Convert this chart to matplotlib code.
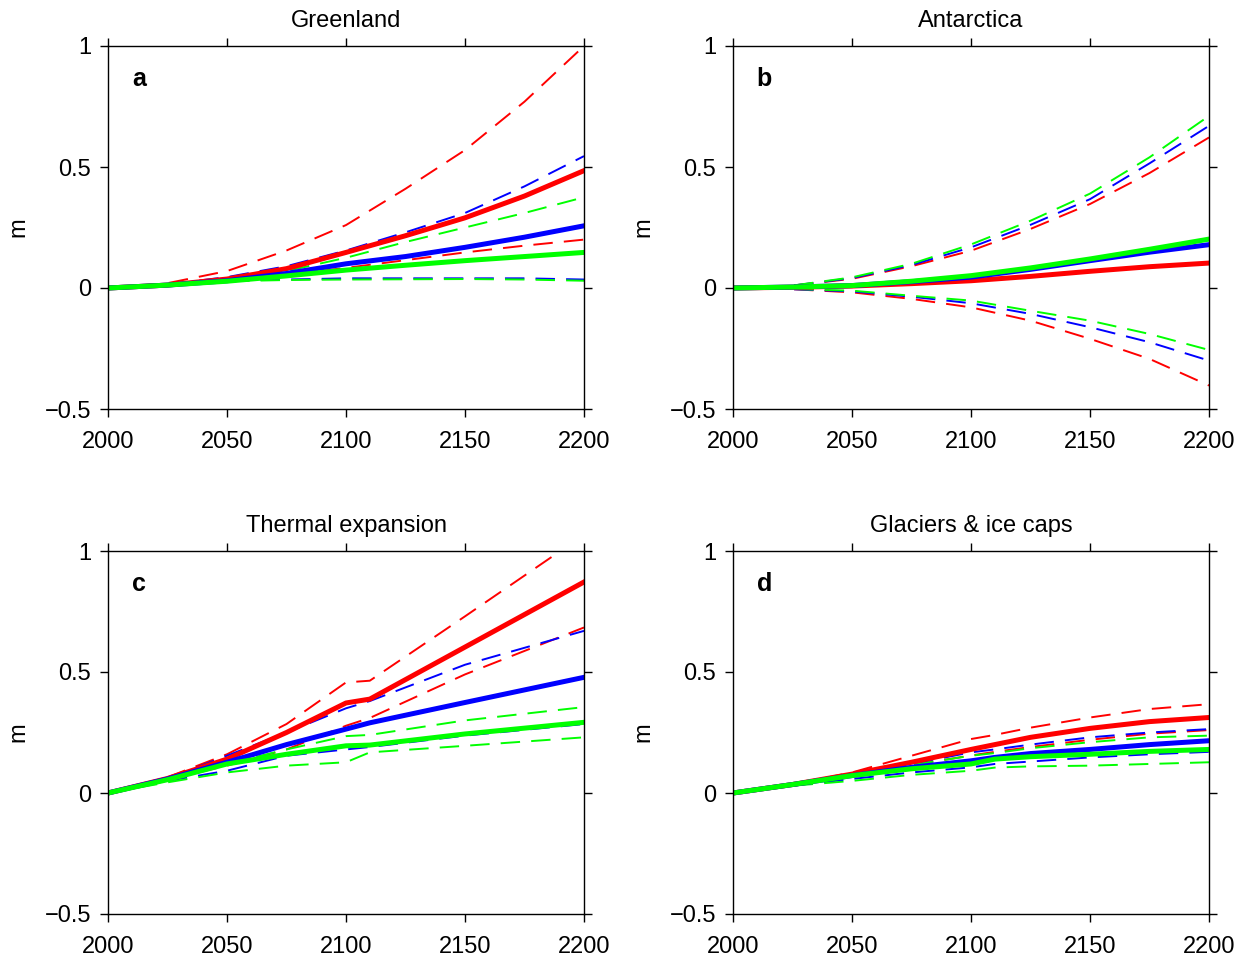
import matplotlib
matplotlib.use('Agg')
import matplotlib.pyplot as plt

plt.rcParams['font.family'] = ['Liberation Sans', 'DejaVu Sans']
plt.rcParams['axes.unicode_minus'] = True
plt.rcParams['lines.scale_dashes'] = False

# Greenland
gr_years = [2000, 2025, 2050, 2075, 2100, 2125, 2150, 2175, 2200]
gr_red_hi = [0, 0.02, 0.07, 0.155, 0.26, 0.41, 0.57, 0.77, 1.0]
gr_red = [0, 0.012, 0.037, 0.08, 0.147, 0.216, 0.29, 0.38, 0.485]
gr_red_lo = [0, 0.012, 0.028, 0.055, 0.083, 0.115, 0.147, 0.175, 0.20]
gr_blue_hi = [0, 0.015, 0.045, 0.09, 0.155, 0.23, 0.31, 0.42, 0.545]
gr_blue = [0, 0.012, 0.03, 0.06, 0.10, 0.13, 0.168, 0.21, 0.257]
gr_blue_lo = [0, 0.012, 0.03, 0.035, 0.04, 0.04, 0.04, 0.04, 0.035]
gr_green_hi = [0, 0.012, 0.033, 0.07, 0.125, 0.19, 0.25, 0.31, 0.375]
gr_green = [0, 0.012, 0.028, 0.05, 0.074, 0.094, 0.113, 0.13, 0.147]
gr_green_lo = [0, 0.012, 0.028, 0.033, 0.035, 0.036, 0.037, 0.035, 0.03]

# Antarctica
an_years = [2000, 2025, 2050, 2075, 2100, 2125, 2150, 2175, 2200]
an_red_hi = [0, 0.01, 0.038, 0.09, 0.154, 0.244, 0.347, 0.475, 0.622]
an_red = [0, 0.003, 0.008, 0.018, 0.03, 0.048, 0.069, 0.088, 0.103]
an_red_lo = [0, -0.005, -0.018, -0.045, -0.08, -0.135, -0.21, -0.293, -0.403]
an_blue_hi = [0, 0.01, 0.041, 0.095, 0.168, 0.261, 0.367, 0.515, 0.67]
an_blue = [0, 0.004, 0.01, 0.026, 0.045, 0.077, 0.113, 0.148, 0.179]
an_blue_lo = [0, -0.005, -0.014, -0.036, -0.063, -0.107, -0.162, -0.224, -0.30]
an_green_hi = [0, 0.01, 0.044, 0.10, 0.18, 0.278, 0.39, 0.54, 0.711]
an_green = [0, 0.004, 0.01, 0.028, 0.051, 0.083, 0.12, 0.16, 0.202]
an_green_lo = [0, -0.004, -0.011, -0.032, -0.052, -0.094, -0.135, -0.19, -0.256]

# Thermal expansion
th_years = [2000, 2025, 2050, 2075, 2100, 2110, 2150, 2200]
th_red_hi = [0, 0.065, 0.16, 0.285, 0.457, 0.464, 0.73, 1.067]
th_red = [0, 0.06, 0.14, 0.25, 0.372, 0.388, 0.603, 0.872]
th_red_lo = [0, 0.055, 0.113, 0.18, 0.278, 0.31, 0.49, 0.684]
th_blue_hi = [0, 0.06, 0.154, 0.25, 0.35, 0.38, 0.53, 0.67]
th_blue = [0, 0.058, 0.127, 0.2, 0.264, 0.29, 0.374, 0.478]
th_blue_lo = [0, 0.05, 0.092, 0.154, 0.18, 0.19, 0.237, 0.285]
th_green_hi = [0, 0.055, 0.12, 0.18, 0.235, 0.24, 0.30, 0.355]
th_green = [0, 0.055, 0.12, 0.16, 0.195, 0.198, 0.244, 0.292]
th_green_lo = [0, 0.044, 0.085, 0.113, 0.127, 0.168, 0.195, 0.23]

# Glaciers & ice caps
gl_years = [2000, 2025, 2050, 2075, 2100, 2110, 2125, 2150, 2175, 2200]
gl_red_hi = [0, 0.035, 0.085, 0.154, 0.223, 0.24, 0.27, 0.312, 0.347, 0.367]
gl_red = [0, 0.035, 0.078, 0.127, 0.18, 0.2, 0.23, 0.267, 0.295, 0.312]
gl_red_lo = [0, 0.035, 0.075, 0.115, 0.155, 0.17, 0.19, 0.22, 0.245, 0.26]
gl_blue_hi = [0, 0.035, 0.078, 0.12, 0.168, 0.18, 0.2, 0.23, 0.25, 0.264]
gl_blue = [0, 0.035, 0.072, 0.106, 0.133, 0.147, 0.163, 0.18, 0.2, 0.216]
gl_blue_lo = [0, 0.03, 0.058, 0.085, 0.106, 0.12, 0.13, 0.147, 0.16, 0.17]
gl_green_hi = [0, 0.035, 0.075, 0.115, 0.154, 0.165, 0.185, 0.21, 0.23, 0.237]
gl_green = [0, 0.035, 0.072, 0.1, 0.12, 0.14, 0.15, 0.16, 0.172, 0.18]
gl_green_lo = [0, 0.03, 0.05, 0.075, 0.092, 0.105, 0.11, 0.113, 0.12, 0.127]

titles = ['Greenland', 'Antarctica', 'Thermal expansion', 'Glaciers & ice caps']
letters = ['a', 'b', 'c', 'd']

panels = [
    (gr_years, gr_red_hi, gr_red, gr_red_lo, gr_blue_hi, gr_blue, gr_blue_lo, gr_green_hi, gr_green, gr_green_lo),
    (an_years, an_red_hi, an_red, an_red_lo, an_blue_hi, an_blue, an_blue_lo, an_green_hi, an_green, an_green_lo),
    (th_years, th_red_hi, th_red, th_red_lo, th_blue_hi, th_blue, th_blue_lo, th_green_hi, th_green, th_green_lo),
    (gl_years, gl_red_hi, gl_red, gl_red_lo, gl_blue_hi, gl_blue, gl_blue_lo, gl_green_hi, gl_green, gl_green_lo),
]

# axes boxes in pixels (left, top)
W, H = 1247, 961
boxes = [(108, 46), (733, 46), (108, 551), (733, 551)]
aw, ah = 476, 363

fig = plt.figure(figsize=(W / 100, H / 100), dpi=100)

for i, (yrs, rh, r, rl, bh, b, bl, gh, g, gl) in enumerate(panels):
    x0, y0 = boxes[i]
    ax = fig.add_axes([x0 / W, 1 - (y0 + ah) / H, aw / W, ah / H])
    dash = dict(lw=1.4, ls=(0, (14, 8)))
    ax.plot(yrs, rh, color='#ff0000', **dash)
    ax.plot(yrs, rl, color='#ff0000', **dash)
    ax.plot(yrs, bh, color='#0000ff', **dash)
    ax.plot(yrs, bl, color='#0000ff', **dash)
    ax.plot(yrs, gh, color='#00ff00', **dash)
    ax.plot(yrs, gl, color='#00ff00', **dash)
    ax.plot(yrs, r, color='#ff0000', lw=3.6)
    ax.plot(yrs, b, color='#0000ff', lw=3.6)
    ax.plot(yrs, g, color='#00ff00', lw=3.6)

    ax.set_xlim(2000, 2200)
    ax.set_ylim(-0.5, 1)
    ax.set_xticks([2000, 2050, 2100, 2150, 2200])
    ax.set_yticks([-0.5, 0, 0.5, 1])
    ax.set_yticklabels(['\u22120.5', '0', '0.5', '1'])
    ax.tick_params(direction='out', length=6, width=1, labelsize=17,
                   top=True, right=True)
    ax.tick_params(axis='x', pad=10)
    ax.tick_params(axis='y', pad=6)
    for s in ax.spines.values():
        s.set_linewidth(1)
    ax.set_title(titles[i], fontsize=17, pad=14)
    ax.set_ylabel('m', fontsize=17)
    ax.yaxis.set_label_coords(-0.164, 0.5)
    ax.text(0.05, 0.91, letters[i], transform=ax.transAxes, fontsize=18,
            fontweight='bold', va='center', ha='left')

fig.savefig('out.png', dpi=100)
